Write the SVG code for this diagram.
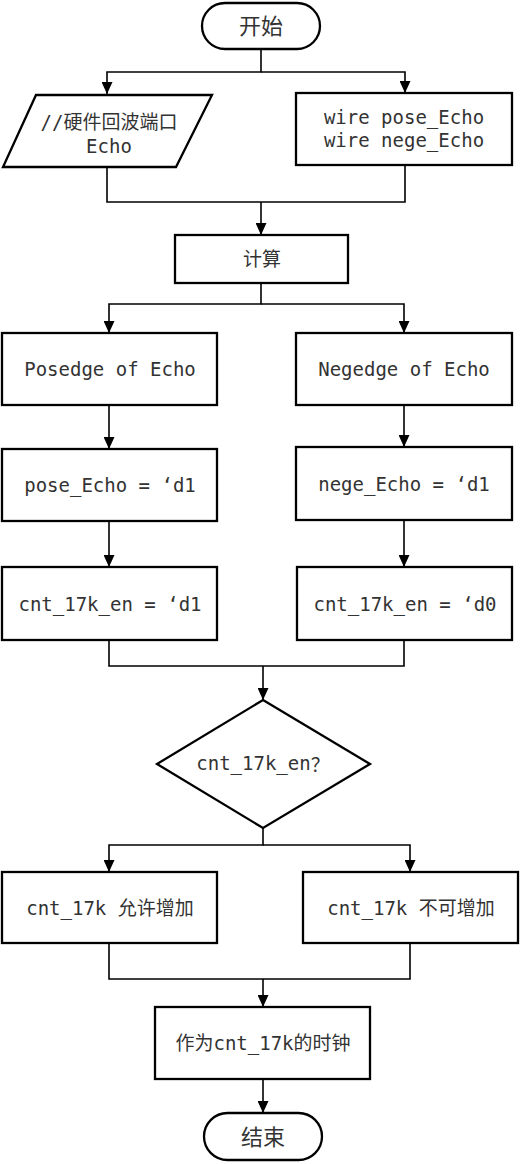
<svg xmlns="http://www.w3.org/2000/svg" width="520" height="1164" viewBox="0 0 520 1164">
<style>
.n{fill:#fff;stroke:#000;stroke-width:2.3}
.t{font-family:"DejaVu Sans Mono","Noto Sans CJK SC",monospace;font-size:19px;fill:#333;text-anchor:middle;dominant-baseline:central}
.tb{font-size:22px}
.cjk{font-family:"Noto Sans CJK SC",sans-serif}
.c{fill:none;stroke:#000;stroke-width:1.6}
</style>
<defs>
<marker id="arr" markerWidth="12" markerHeight="11" refX="12" refY="5.5" orient="auto" markerUnits="userSpaceOnUse" viewBox="0 0 12 11">
<path d="M0,0 L12,5.5 L0,11 Z" fill="#000"/>
</marker>
</defs>
<g id="connectors">
<path class="c" d="M261,49 V72 H107 V94" marker-end="url(#arr)"/>
<path class="c" d="M261,72 H405 V93" marker-end="url(#arr)"/>
<path class="c" d="M107,167 V202 H405 V165"/>
<path class="c" d="M261,202 V235" marker-end="url(#arr)"/>
<path class="c" d="M261,283 V304 H109 V333" marker-end="url(#arr)"/>
<path class="c" d="M261,304 H404 V333" marker-end="url(#arr)"/>
<path class="c" d="M109,405 V449" marker-end="url(#arr)"/>
<path class="c" d="M404,405 V447" marker-end="url(#arr)"/>
<path class="c" d="M109,521 V567" marker-end="url(#arr)"/>
<path class="c" d="M404,520 V567" marker-end="url(#arr)"/>
<path class="c" d="M109,640 V666 H404 V640"/>
<path class="c" d="M263,666 V700" marker-end="url(#arr)"/>
<path class="c" d="M263,828 V845 H109 V872" marker-end="url(#arr)"/>
<path class="c" d="M263,845 H410 V872" marker-end="url(#arr)"/>
<path class="c" d="M109,943 V979 H410 V943"/>
<path class="c" d="M263,979 V1007" marker-end="url(#arr)"/>
<path class="c" d="M263,1079 V1113" marker-end="url(#arr)"/>
</g>
<g id="start">
<rect class="n" x="202" y="3" width="118" height="46" rx="23"/>
<text class="t tb" x="261" y="26">开始</text>
</g>
<g id="input">
<polygon class="n" points="36,95 212,95 176,167 3,167"/>
<text class="t" x="109" y="122">//硬件回波端口</text>
<text class="t" x="109" y="146">Echo</text>
</g>
<g id="wires">
<rect class="n" x="296" y="93" width="216" height="72"/>
<text class="t" x="404" y="117">wire pose_Echo</text>
<text class="t" x="404" y="140">wire nege_Echo</text>
</g>
<g id="calc">
<rect class="n" x="175" y="235" width="173" height="48"/>
<text class="t" x="262" y="259">计算</text>
</g>
<g id="posedge">
<rect class="n" x="2" y="333" width="215" height="72"/>
<text class="t" x="110" y="369">Posedge of Echo</text>
</g>
<g id="negedge">
<rect class="n" x="296" y="333" width="216" height="72"/>
<text class="t" x="404" y="369">Negedge of Echo</text>
</g>
<g id="pose">
<rect class="n" x="2" y="449" width="215" height="72"/>
<text class="t" x="110" y="485">pose_Echo = ‘d1</text>
</g>
<g id="nege">
<rect class="n" x="296" y="447" width="216" height="73"/>
<text class="t" x="404" y="484">nege_Echo = ‘d1</text>
</g>
<g id="en1">
<rect class="n" x="2" y="567" width="215" height="73"/>
<text class="t" x="110" y="604">cnt_17k_en = ‘d1</text>
</g>
<g id="en0">
<rect class="n" x="297" y="567" width="215" height="73"/>
<text class="t" x="405" y="604">cnt_17k_en = ‘d0</text>
</g>
<g id="decision">
<polygon class="n" points="263,700 370,764 263,828 157,764"/>
<text class="t" x="263" y="763">cnt_17k_en<tspan class="cjk">？</tspan></text>
</g>
<g id="allow">
<rect class="n" x="2" y="872" width="215" height="71"/>
<text class="t" x="110" y="908">cnt_17k 允许增加</text>
</g>
<g id="deny">
<rect class="n" x="303" y="872" width="215" height="71"/>
<text class="t" x="411" y="908">cnt_17k 不可增加</text>
</g>
<g id="clock">
<rect class="n" x="155" y="1007" width="215" height="72"/>
<text class="t" x="263" y="1043">作为cnt_17k的时钟</text>
</g>
<g id="end">
<rect class="n" x="204" y="1113" width="118" height="47" rx="23.5"/>
<text class="t tb" x="263" y="1137">结束</text>
</g>
</svg>
